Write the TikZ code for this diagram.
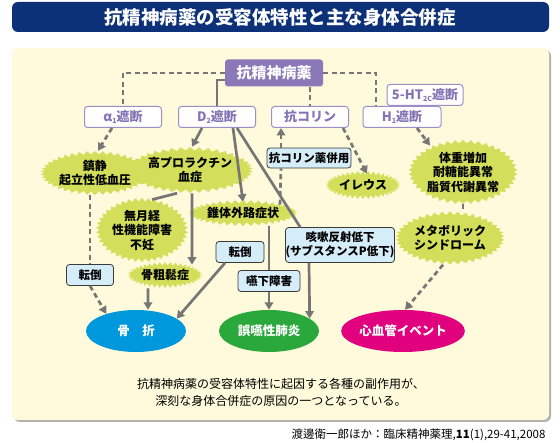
\documentclass[tikz,border=0pt]{standalone}
\usepackage{fontspec}
\setmainfont{Noto Sans CJK JP}
\usetikzlibrary{arrows.meta,shapes.geometric,shapes.symbols}
\definecolor{navy}{HTML}{0C3179}
\definecolor{panelfill}{HTML}{FEFADB}
\definecolor{linegray}{HTML}{767676}
\definecolor{purpfill}{HTML}{8A78B9}
\definecolor{purpline}{HTML}{9C8FC8}
\definecolor{purptext}{HTML}{8476B5}
\definecolor{burstfill}{HTML}{D3DF5B}
\definecolor{notefill}{HTML}{D5EDF9}
\definecolor{notedraw}{HTML}{3A3A3A}
\definecolor{fractblue}{HTML}{0098DC}
\definecolor{pneugreen}{HTML}{2BA83C}
\definecolor{cardiored}{HTML}{E1007D}
\newcommand\lowsub[1]{\raisebox{-0.3ex}{\fontsize{7}{7}\selectfont #1}}
\tikzset{
	gline/.style={draw=linegray, line width=2.7pt},
	gdash/.style={gline, dash pattern=on 5pt off 3.5pt},
	arrowto/.style={-{Triangle[length=7.5pt,width=8.5pt]}},
	drug/.style={rectangle, rounded corners=3pt, fill=purpfill, text=white, inner sep=0pt,
		minimum width=98pt, minimum height=27pt, font=\fontsize{15}{18}\selectfont\bfseries},
	recept/.style={rectangle, rounded corners=3pt, draw=purpline, line width=1pt, fill=white,
		text=purptext, inner sep=0pt, minimum height=21pt, font=\fontsize{13}{15}\selectfont\bfseries},
	burst/.style={starburst, starburst points=42, starburst point height=3.5pt, random starburst=0,
		fill=burstfill, inner sep=0pt, align=center, font=\fontsize{12}{14.5}\selectfont\bfseries},
	note/.style={rectangle, rounded corners=3pt, draw=notedraw, line width=0.8pt, fill=notefill,
		inner sep=0pt, align=center, minimum height=21pt, font=\fontsize{11.5}{14}\selectfont\bfseries},
	result/.style={ellipse, fill=#1, text=white, inner sep=0pt, minimum width=100pt,
		minimum height=42pt, font=\fontsize{12.5}{15}\selectfont\bfseries},
}

\begin{document}
\begin{tikzpicture}[x=1pt, y=-1pt]
		%%%%% START %%%%%
		\useasboundingbox (0, 0) rectangle (560, 443);
		
		% title bar and panel
		\fill[navy, rounded corners=6pt] (12, 2) rectangle (549, 32);
		\node[text=white, font=\fontsize{18.5}{20}\selectfont\bfseries] (title) at (280, 17) {抗精神病薬の受容体特性と主な身体合併症};
		\fill[black!30, rounded corners=6pt] (14, 50) rectangle (551, 422);
		\fill[panelfill, rounded corners=6pt] (12, 48) rectangle (549, 420);
		
		% drug and receptors
		\node[drug] (drug) at (274, 73) {抗精神病薬};
		\node[recept, minimum width=76pt] (htwoc) at (425, 95) {5-HT\lowsub{2C}遮断};
		\node[recept, minimum width=77pt] (alpha) at (123, 117) {α\lowsub{1}遮断};
		\node[recept, minimum width=77pt] (dtwo) at (217, 117) {D\lowsub{2}遮断};
		\node[recept, minimum width=77pt] (anticho) at (310, 117) {抗コリン};
		\node[recept, minimum width=78pt] (hone) at (402, 117) {H\lowsub{1}遮断};
		
		% side effects
		\node[burst, minimum width=90pt, minimum height=40pt] (sedate) at (95, 173) {鎮静\\起立性低血圧};
		\node[burst, minimum width=94pt, minimum height=46pt] (prl) at (190, 170) {高プロラクチン\\血症};
		\node[burst, minimum width=90pt, minimum height=54pt] (amen) at (142, 230) {無月経\\性機能障害\\不妊};
		\node[burst, minimum width=64pt, minimum height=26pt] (osteo) at (165, 275) {骨粗鬆症};
		\node[burst, minimum width=93pt, minimum height=26pt] (eps) at (243, 213) {錐体外路症状};
		\node[burst, minimum width=63pt, minimum height=28pt] (ileus) at (363, 185) {イレウス};
		\node[burst, minimum width=93pt, minimum height=58pt] (weight) at (463, 172) {体重増加\\耐糖能異常\\脂質代謝異常};
		\node[burst, minimum width=94pt, minimum height=53pt] (metab) at (450, 238) {メタボリック\\シンドローム};
		
		\node[note, minimum width=84pt, minimum height=20pt] (comb) at (309, 158) {抗コリン薬併用};
		\node[note, minimum width=47pt] (fallL) at (90, 275) {転倒};
		\node[note, minimum width=48pt] (fallM) at (240, 252) {転倒};
		\node[note, minimum width=62pt] (swallow) at (269, 281) {嚥下障害};
		\node[note, minimum width=105pt, minimum height=35pt] (cough) at (340, 245) {咳嗽反射低下\\(サブスタンスP低下)};
		
		% outcomes
		\node[result=fractblue] (fract) at (136, 331) {骨　折};
		\node[result=pneugreen] (pneu) at (269, 331) {誤嚥性肺炎};
		\node[result=cardiored] (cardio) at (403, 331) {心血管イベント};
		
		% connectors
		\draw[gdash] (drug.west) -| (alpha.north);
		\draw[gline] ([yshift=-7pt]drug.west) -| (dtwo.north);
		\draw[gdash] (anticho.north |- drug.south) -- (anticho.north);
		\draw[gdash] (drug.east) -| ([xshift=-26pt]hone.north);
		
		\draw[gdash, arrowto] ([xshift=-11pt]alpha.south) -- ([xshift=3pt]sedate.north);
		\draw[gline, arrowto] ([xshift=-15pt]dtwo.south) -- ([xshift=2pt]prl.north);
		\draw[gline, arrowto] ([xshift=16pt]dtwo.south) -- ([yshift=-2pt]eps.north);
		\draw[gline] ([xshift=20pt]dtwo.south) -- ([xshift=15pt]cough.north west);
		\draw[gline] ([xshift=-13pt]prl.south) -- ([xshift=10pt,yshift=-2pt]amen.north);
		\draw[gline, arrowto] ([xshift=2pt]prl.south) -- ([xshift=27pt,yshift=-3pt]osteo.north);
		\draw[gdash] (fallL.north |- sedate.south) -- (fallL.north);
		\draw[gdash, arrowto] (fallL.south) -- (fract.150);
		\draw[gline, arrowto] ([xshift=-17pt]osteo.south) -- ([xshift=12pt]fract.north);
		\draw[gline, arrowto] ([xshift=-15pt]fallM.south) -- (fract.17);
		\draw[gline] (swallow.north |- eps.south) -- (swallow.north);
		\draw[gline, arrowto] (swallow.south) -- (pneu.north);
		\draw[gline, arrowto] ([xshift=-31pt]cough.south) -- (pneu.17);
		\draw[gdash] ([xshift=37pt,yshift=-5pt]eps.north) -- ([xshift=-28pt]comb.south);
		\draw[gdash, arrowto] ([xshift=-28pt]comb.north) -- ([xshift=-29pt]anticho.south);
		\draw[gdash, arrowto] ([xshift=33pt]anticho.south) -- ([xshift=4pt,yshift=-3pt]ileus.north);
		\draw[gdash, arrowto] ([xshift=15pt]hone.south) -- ([xshift=-33pt,yshift=-6pt]weight.north);
		\draw[gdash] (weight.south) -- (weight.south |- metab.north);
		\draw[gdash, arrowto] ([xshift=-7pt]metab.south) -- ([xshift=2pt]cardio.north);
		
		% notes
		\node[align=center, font=\fontsize{12}{17}\selectfont] (summary) at (281, 392) {抗精神病薬の受容体特性に起因する各種の副作用が、\\深刻な身体合併症の原因の一つとなっている。};
		\node[anchor=east, font=\fontsize{11.5}{13}\selectfont] (cite) at (549, 435) {渡邊衛一郎ほか：臨床精神薬理,\textbf{11}(1),29-41,2008};
		
		%%%%% END %%%%%
	\end{tikzpicture}
\end{document}
